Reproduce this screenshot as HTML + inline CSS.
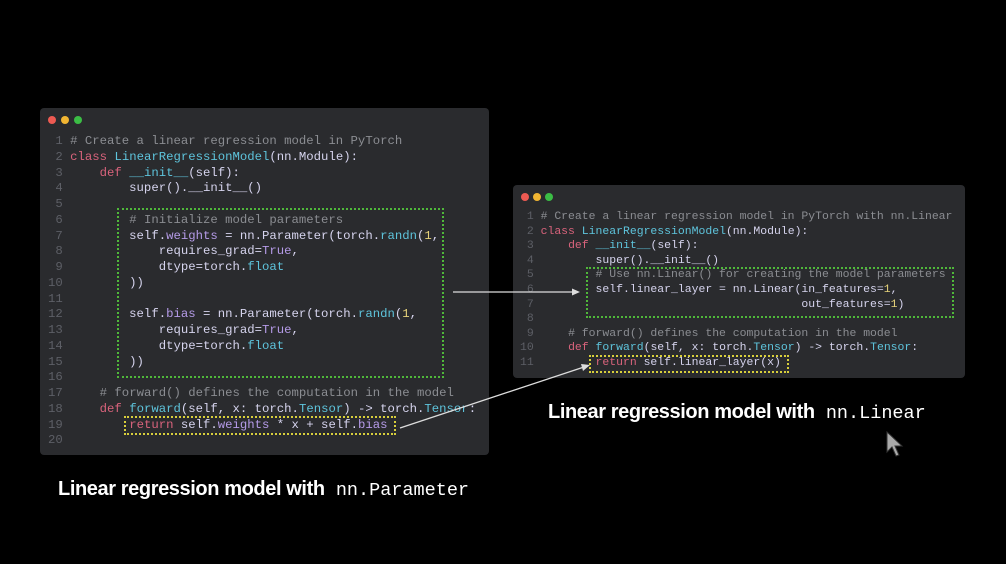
<!DOCTYPE html>
<html><head><meta charset="utf-8"><style>
body{margin:0;width:1006px;height:564px;background:#000;position:relative;overflow:hidden;font-family:"Liberation Sans",sans-serif}
.panel{position:absolute;background:#2a2b2e;border-radius:4px}
.dots span{position:absolute;width:8px;height:8px;border-radius:50%;top:8px}
pre{position:absolute;margin:0;font-family:"Liberation Mono",monospace;color:#d6d4ee;white-space:pre}
.ln{color:#5d5f66}
.k{color:#d9637c}.c{color:#8b8d92}.n{color:#5ec4dc}.p{color:#b59be8}.y{color:#e6d27a}
.box{position:absolute;border:2px dotted}
.cap{position:absolute;color:#fff;font-weight:bold;font-size:20px;letter-spacing:-0.4px}
.cap tt{font-family:"Liberation Mono",monospace;font-weight:normal;letter-spacing:0;font-size:18.5px;margin-left:6px}
</style></head><body>
<div class="panel" style="left:40px;top:108px;width:449px;height:347px">
<div class="dots"><span style="left:8px;background:#ed5a52"></span><span style="left:21px;background:#f1b532"></span><span style="left:34px;background:#3bbd45"></span></div>
</div>
<pre style="left:48px;top:134px;font-size:12.3px;line-height:15.75px"><span class="ln"> 1 </span><span class="c"># Create a linear regression model in PyTorch</span>
<span class="ln"> 2 </span><span class="k">class</span> <span class="n">LinearRegressionModel</span>(nn.Module):
<span class="ln"> 3 </span>    <span class="k">def</span> <span class="n">__init__</span>(self):
<span class="ln"> 4 </span>        super().__init__()
<span class="ln"> 5 </span>
<span class="ln"> 6 </span>        <span class="c"># Initialize model parameters</span>
<span class="ln"> 7 </span>        self.<span class="p">weights</span> = nn.Parameter(torch.<span class="n">randn</span>(<span class="y">1</span>,
<span class="ln"> 8 </span>            requires_grad=<span class="p">True</span>,
<span class="ln"> 9 </span>            dtype=torch.<span class="n">float</span>
<span class="ln">10 </span>        ))
<span class="ln">11 </span>
<span class="ln">12 </span>        self.<span class="p">bias</span> = nn.Parameter(torch.<span class="n">randn</span>(<span class="y">1</span>,
<span class="ln">13 </span>            requires_grad=<span class="p">True</span>,
<span class="ln">14 </span>            dtype=torch.<span class="n">float</span>
<span class="ln">15 </span>        ))
<span class="ln">16 </span>
<span class="ln">17 </span>    <span class="c"># forward() defines the computation in the model</span>
<span class="ln">18 </span>    <span class="k">def</span> <span class="n">forward</span>(self, x: torch.<span class="n">Tensor</span>) -&gt; torch.<span class="n">Tensor</span>:
<span class="ln">19 </span>        <span class="k">return</span> self.<span class="p">weights</span> * x + self.<span class="p">bias</span>
<span class="ln">20 </span></pre>
<div class="box" style="left:117px;top:208px;width:323px;height:166px;border-color:#4fb83a"></div>
<div class="box" style="left:124px;top:416px;width:268px;height:15px;border-color:#d8cf3c"></div>

<div class="panel" style="left:513px;top:185px;width:452px;height:193px">
<div class="dots"><span style="left:8px;background:#ed5a52"></span><span style="left:20px;background:#f1b532"></span><span style="left:32px;background:#3bbd45"></span></div>
</div>
<pre style="left:520px;top:210px;font-size:11.45px;line-height:14.6px"><span class="ln"> 1 </span><span class="c"># Create a linear regression model in PyTorch with nn.Linear</span>
<span class="ln"> 2 </span><span class="k">class</span> <span class="n">LinearRegressionModel</span>(nn.Module):
<span class="ln"> 3 </span>    <span class="k">def</span> <span class="n">__init__</span>(self):
<span class="ln"> 4 </span>        super().__init__()
<span class="ln"> 5 </span>        <span class="c"># Use nn.Linear() for creating the model parameters</span>
<span class="ln"> 6 </span>        self.linear_layer = nn.Linear(in_features=<span class="y">1</span>,
<span class="ln"> 7 </span>                                      out_features=<span class="y">1</span>)
<span class="ln"> 8 </span>
<span class="ln"> 9 </span>    <span class="c"># forward() defines the computation in the model</span>
<span class="ln">10 </span>    <span class="k">def</span> <span class="n">forward</span>(self, x: torch.<span class="n">Tensor</span>) -&gt; torch.<span class="n">Tensor</span>:
<span class="ln">11 </span>        <span class="k">return</span> self.linear_layer(x)</pre>
<div class="box" style="left:586px;top:267px;width:364px;height:47px;border-color:#4fb83a"></div>
<div class="box" style="left:589px;top:355px;width:196px;height:14px;border-color:#d8cf3c"></div>

<svg style="position:absolute;left:0;top:0" width="1006" height="564">
<line x1="453" y1="292" x2="574" y2="292" stroke="#ddd" stroke-width="1.3"/>
<polygon points="580,292 572,288.5 572,295.5" fill="#ddd"/>
<line x1="400" y1="428" x2="584" y2="367" stroke="#ddd" stroke-width="1.3"/>
<polygon points="590,365 581,364 583,371" fill="#ddd"/>
<polygon points="887,432 887,452 892,447 896,456 899,455 895,446 902,446" fill="#aaa" stroke="#333" stroke-width="1"/>
</svg>
<div class="cap" style="left:58px;top:478px">Linear regression model with <tt>nn.Parameter</tt></div>
<div class="cap" style="left:548px;top:401px">Linear regression model with <tt>nn.Linear</tt></div>
</body></html>
